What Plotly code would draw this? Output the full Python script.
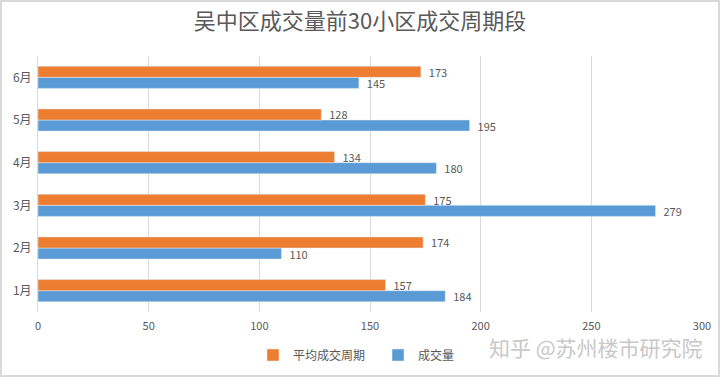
import plotly.graph_objects as go

months = ["1月", "2月", "3月", "4月", "5月", "6月"]
avg_cycle = [157, 174, 175, 134, 128, 173]
volume = [184, 110, 279, 180, 195, 145]
x_ticks = [0, 50, 100, 150, 200, 250, 300]

W, H = 720, 377
L, R, T, B = 38, 18, 56, 65
pw, ph = W - L - R, H - T - B

def px(x):
    return (x - L) / pw

def py(y):
    return (H - B - y) / ph

font = "Noto Sans CJK SC, Noto Sans, sans-serif"
txt = "#595959"

fig = go.Figure()
fig.add_trace(go.Bar(
    y=months, x=volume, orientation="h", name="成交量",
    marker_color="#5B9BD5", text=volume, texttemplate="  %{x}", textposition="outside",
    textfont=dict(size=11, color=txt), cliponaxis=False, legendrank=2,
    constraintext="none", hoverinfo="x+y+name",
))
fig.add_trace(go.Bar(
    y=months, x=avg_cycle, orientation="h", name="平均成交周期",
    marker_color="#ED7D31", text=avg_cycle, texttemplate="  %{x}", textposition="outside",
    textfont=dict(size=11, color=txt), cliponaxis=False, legendrank=1,
    constraintext="none", hoverinfo="x+y+name",
))

fig.update_layout(
    width=W, height=H,
    margin=dict(l=L, r=R, t=T, b=B, autoexpand=False),
    paper_bgcolor="white", plot_bgcolor="white",
    font=dict(family=font, color=txt, size=11),
    barmode="group", bargap=0.48, bargroupgap=0,
    title=dict(text="吴中区成交量前30小区成交周期段", x=0.5, xanchor="center",
               y=1 - 21 / H, yanchor="middle",
               font=dict(size=22, color=txt, family=font)),
    xaxis=dict(range=[0, 300], tickvals=x_ticks, showgrid=True, gridcolor="#D9D9D9",
               gridwidth=1, zeroline=False, ticks="", tickfont=dict(size=11, color=txt),
               showline=False, automargin=False, ticklabelstandoff=6),
    yaxis=dict(showgrid=False, showline=True, linecolor="#D9D9D9", linewidth=1,
               ticks="", ticklen=0, tickfont=dict(size=12, color=txt), automargin=False,
               ticklabelstandoff=3),
    legend=dict(orientation="h", x=px(378), xanchor="center", y=py(355), yanchor="middle",
                font=dict(size=12, color=txt), itemwidth=30, traceorder="normal",
                entrywidth=80, entrywidthmode="pixels"),
    showlegend=True,
)

fig.add_annotation(text="知乎 @苏州楼市研究院", xref="paper", yref="paper",
                   x=px(596), y=py(347), xanchor="center", yanchor="middle", showarrow=False,
                   font=dict(size=21, color="#C8C8C8", family=font))

fig.add_shape(type="rect", xref="paper", yref="paper",
              x0=px(1), x1=px(719), y0=py(376), y1=py(1),
              line=dict(color="#D9D9D9", width=2), layer="below")

fig.write_html("out.html", config={"displayModeBar": False},
               post_script="document.body.style.margin='0px';document.body.style.overflow='hidden';")
